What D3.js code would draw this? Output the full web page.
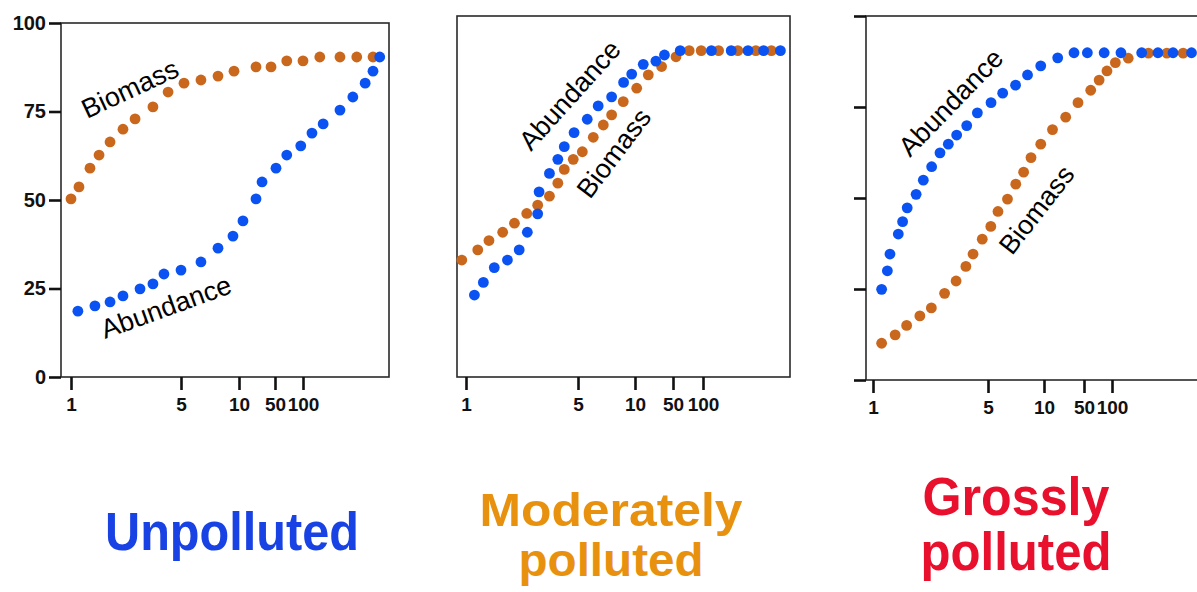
<!DOCTYPE html>
<html>
<head>
<meta charset="utf-8">
<script src="https://cdn.jsdelivr.net/npm/d3@7/dist/d3.min.js"></script>
<style>
  body { margin: 0; background: #fff; }
  svg { display: block; }
</style>
</head>
<body>
<svg id="chart" width="1197" height="592"></svg>
<script>
// species rank axis (schematic, not log) and cumulative % axis
const rankTicks = [1, 5, 10, 50, 100];
const valueTicks = [0, 25, 50, 75, 100];

// [rank, cumulative %]
const unpollutedBiomass = [
  [1.0, 50.3], [1.29, 53.7], [1.69, 59], [2.02, 62.7], [2.42, 66.4], [2.89, 70], [3.33, 72.9],
  [3.98, 76.3], [4.53, 80.5], [5.26, 83], [6.72, 83.9], [8.19, 85], [9.57, 86.4], [28.9, 87.6],
  [45.6, 87.6], [71, 89.3], [100, 89.3], [130, 90.4], [166, 90.4], [196, 90.4], [225, 90.4]
];
const unpollutedAbundance = [
  [1.25, 18.6], [1.87, 20.1], [2.42, 21.2], [2.89, 22.9], [3.51, 24.9], [3.98, 26.3], [4.38, 29.1],
  [5.0, 30.2], [6.72, 32.5], [8.19, 36.4], [9.48, 39.8], [14.4, 44.1], [28.9, 50.3], [35.6, 55.1],
  [51.8, 59], [71, 62.7], [96, 65.3], [116, 68.9], [136, 71.5], [166, 75.4], [189, 79.1],
  [211, 83], [225, 86.4], [237, 90.4]
];
const moderateBiomass = [
  [0.85, 32.4], [1.42, 35.2], [1.82, 37.8], [2.31, 40.1], [2.73, 42.6], [3.17, 45.3], [3.56, 47.6],
  [3.98, 50.1], [4.28, 53.7], [4.51, 57.5], [4.83, 60.3], [5.38, 62.4], [6.34, 66.4], [7.22, 69.8],
  [7.95, 72.6], [8.97, 76.3], [11.8, 80], [24, 83.7], [38, 86], [55, 88.7], [77, 90.4],
  [97, 90.4], [126, 90.4], [158, 90.4], [188, 90.4], [214, 90.4]
];
const moderateAbundance = [
  [1.30, 22.7], [1.62, 26.2], [2.01, 30.3], [2.48, 32.4], [2.90, 35.2], [3.19, 40.1], [3.56, 45.2],
  [3.61, 51.3], [3.98, 56.4], [4.28, 60.3], [4.51, 63.8], [4.86, 67.7], [5.81, 71.4], [6.77, 75.1],
  [7.95, 77.6], [9.0, 81.6], [9.71, 83.9], [18.7, 86.6], [32, 87.5], [41, 89.2], [62, 90.4],
  [114, 90.4], [147, 90.4], [175, 90.4], [201, 90.4], [229, 90.4]
];
const grossBiomass = [
  [1.30, 10.1], [1.77, 12.4], [2.17, 15.0], [2.63, 17.6], [3.03, 19.8], [3.49, 23.8], [3.89, 27.2],
  [4.23, 31.2], [4.48, 34.6], [4.80, 38.7], [5.25, 42.2], [5.89, 46.3], [6.74, 49.7], [7.48, 53.8],
  [8.18, 57.1], [8.84, 61.1], [9.71, 64.8], [18.5, 68.8], [31.7, 72.2], [44, 76.2], [62, 79.6],
  [77, 82.4], [91, 84.9], [106, 87.2], [129, 88.4], [165, 89.8], [198, 89.8], [227, 89.8]
];
const grossAbundance = [
  [1.30, 24.9], [1.50, 30.0], [1.59, 34.6], [1.88, 40.1], [2.03, 43.5], [2.19, 47.3], [2.50, 51.0],
  [2.75, 54.9], [3.04, 58.6], [3.33, 62.4], [3.62, 64.8], [3.91, 67.3], [4.26, 69.9], [4.63, 73.4],
  [5.27, 76.2], [6.31, 78.8], [7.46, 81.0], [8.53, 83.8], [9.71, 86.3], [23.7, 88.5], [40, 89.9],
  [56, 89.9], [86, 89.9], [116, 89.9], [153, 89.9], [182, 89.9], [209, 89.9], [242, 89.9]
];

// curve labels: text, rank, value, angle
const unpollutedLabels = [['Biomass', 1.58, 72.9, -25], ['Abundance', 2.24, 10.7, -20]];
const moderateLabels = [['Abundance', 3.32, 62.3, -48], ['Biomass', 6.05, 49, -53]];
const grossLabels = [['Abundance', 2.29, 61, -46], ['Biomass', 7.14, 34, -52]];

const titles = [['Unpolluted'], ['Moderately', 'polluted'], ['Grossly', 'polluted']];

const BLUE = '#0a52f2';
const ORANGE = '#c9671d';
const FONT = '"Liberation Sans", Arial, sans-serif';

const panels = [
  { biomass: unpollutedBiomass, abundance: unpollutedAbundance, labels: unpollutedLabels, title: titles[0],
    color: '#1842e4', left: 61, top: 23, bottom: 377, width: 328, ticks: [10, 120, 178, 214, 242],
    yTicks: true, yLabels: true, titleX: 232, titleY: [550], titleSize: 53, titleLen: [254] },
  { biomass: moderateBiomass, abundance: moderateAbundance, labels: moderateLabels, title: titles[1],
    color: '#e8910f', left: 457, top: 16, bottom: 377, width: 333, ticks: [9, 121, 178, 216, 246],
    yTicks: false, yLabels: false, titleX: 611, titleY: [526, 576], titleSize: 47, titleLen: [263, 185] },
  { biomass: grossBiomass, abundance: grossAbundance, labels: grossLabels, title: titles[2],
    color: '#e8102c', left: 866, top: 16, bottom: 380, width: 345, ticks: [7, 122, 178, 218, 246],
    yTicks: true, yLabels: false, titleX: 1016, titleY: [515, 570], titleSize: 53, titleLen: [187, 191] }
];

const svg = d3.select('#chart');
svg.append('rect').attr('width', 1197).attr('height', 592).attr('fill', '#fff');

panels.forEach(p => {
  const g = svg.append('g');

  const x = d3.scaleLinear()
    .domain(rankTicks)
    .range(p.ticks.map(t => p.left + t));
  const y = d3.scaleLinear().domain([0, 100]).range([p.bottom, p.top]);

  // frame
  g.append('rect')
    .attr('x', p.left).attr('y', p.top)
    .attr('width', p.width).attr('height', p.bottom - p.top)
    .attr('fill', 'none').attr('stroke', '#2a2a2a').attr('stroke-width', 1.6);

  const xAxis = g.append('g')
    .attr('transform', `translate(0,${p.bottom})`)
    .call(d3.axisBottom(x).tickValues(rankTicks).tickSize(13).tickPadding(8).tickFormat(d3.format('d')));
  xAxis.select('.domain').remove();
  xAxis.selectAll('line').attr('stroke', '#111').attr('stroke-width', 2.6);
  xAxis.selectAll('text')
    .attr('font-family', FONT)
    .attr('font-weight', 'bold').attr('font-size', 19).attr('fill', '#111');

  if (p.yTicks) {
    const yAxis = g.append('g')
      .attr('transform', `translate(${p.left},0)`)
      .call(d3.axisLeft(y).tickValues(valueTicks).tickSize(12).tickPadding(3)
        .tickFormat(p.yLabels ? d3.format('d') : ''));
    yAxis.select('.domain').remove();
    yAxis.selectAll('line').attr('stroke', '#111').attr('stroke-width', 2.6);
    yAxis.selectAll('text')
      .attr('font-family', FONT)
      .attr('font-weight', 'bold').attr('font-size', 20).attr('fill', '#111');
  }

  [[p.biomass, ORANGE], [p.abundance, BLUE]].forEach(([series, col]) => {
    g.append('g').selectAll('circle')
      .data(series)
      .join('circle')
      .attr('cx', d => x(d[0]))
      .attr('cy', d => y(d[1]))
      .attr('r', 5.4)
      .attr('fill', col);
  });

  g.selectAll('.curve-label')
    .data(p.labels)
    .join('text')
    .attr('class', 'curve-label')
    .attr('transform', d => `translate(${x(d[1])},${y(d[2])}) rotate(${d[3]})`)
    .attr('font-family', FONT)
    .attr('font-size', 27)
    .attr('fill', '#000')
    .text(d => d[0]);

  p.title.forEach((line, i) => {
    svg.append('text')
      .attr('x', p.titleX)
      .attr('y', p.titleY[i])
      .attr('text-anchor', 'middle')
      .attr('font-family', FONT)
      .attr('font-weight', 'bold')
      .attr('font-size', p.titleSize)
      .attr('textLength', p.titleLen[i])
      .attr('lengthAdjust', 'spacingAndGlyphs')
      .attr('fill', p.color)
      .text(line);
  });
});
</script>
</body>
</html>
